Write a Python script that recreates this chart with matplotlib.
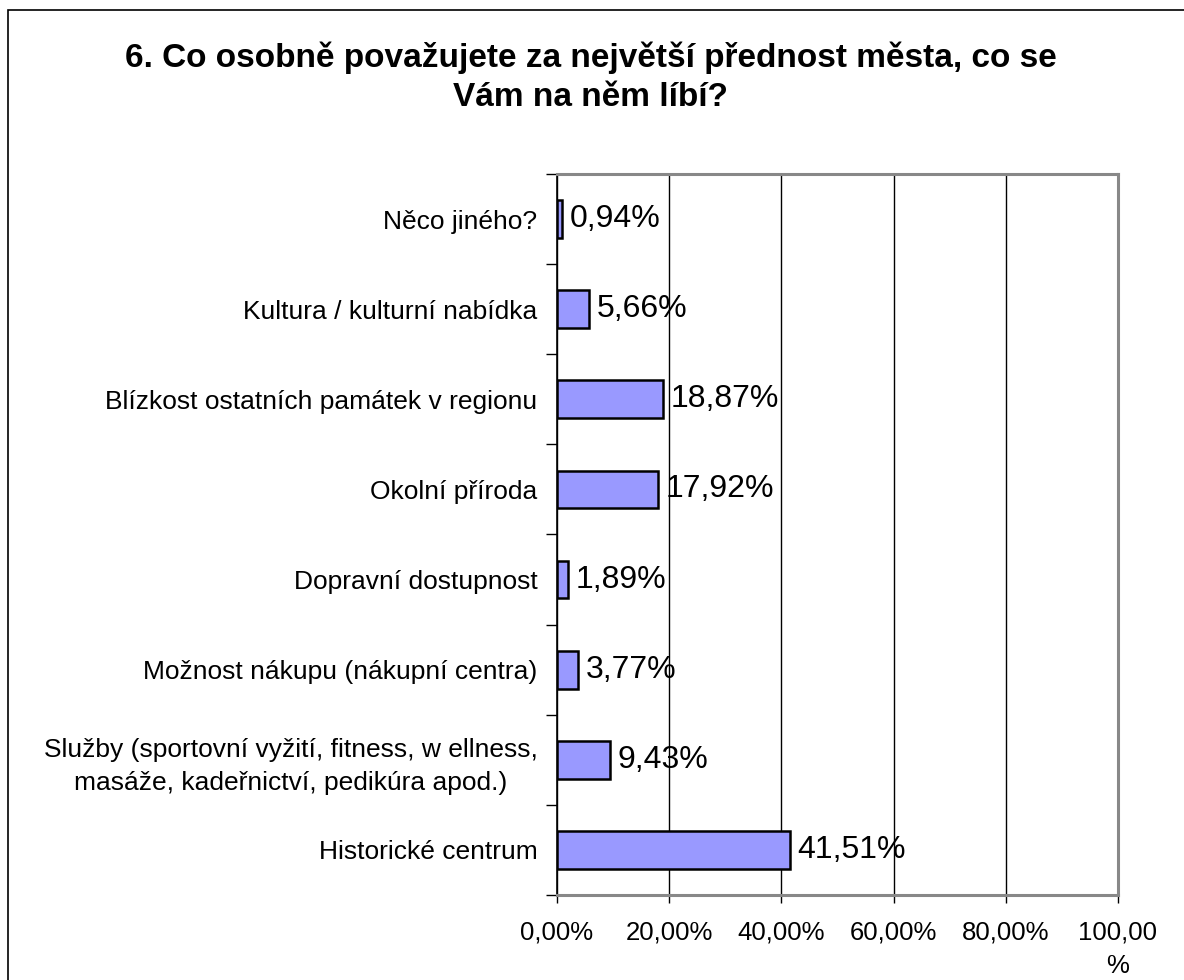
import matplotlib.pyplot as plt
from matplotlib.patches import Rectangle
from matplotlib.ticker import FixedLocator

plt.rcParams['font.family'] = ['Liberation Sans', 'DejaVu Sans']

# categories bottom -> top
categories = [
    'Historické centrum',
    'Služby (sportovní vyžití, fitness, w ellness,\nmasáže, kadeřnictví, pedikúra apod.)',
    'Možnost nákupu (nákupní centra)',
    'Dopravní dostupnost',
    'Okolní příroda',
    'Blízkost ostatních památek v regionu',
    'Kultura / kulturní nabídka',
    'Něco jiného?',
]
values = [41.51, 9.43, 3.77, 1.89, 17.92, 18.87, 5.66, 0.94]
x_ticks = [0, 20, 40, 60, 80, 100]
x_labels = ['0,00%', '20,00%', '40,00%', '60,00%', '80,00%', '100,00\n%']
title = '6. Co osobně považujete za největší přednost města, co se\nVám na něm líbí?'

fig = plt.figure(figsize=(11.84, 9.8), dpi=100)
fig.patch.set_facecolor('white')

# outer chart border (cut off at right/bottom like the original)
fig.patches.append(Rectangle((8 / 1184, -0.1), 1.2, 1.1 - 10 / 980,
                             transform=fig.transFigure, fill=False,
                             edgecolor='black', linewidth=1.2))

ax = fig.add_axes([557 / 1184, 85 / 980, (1118 - 557) / 1184, (895 - 174) / 980])

pos = list(range(len(categories)))
ax.barh(pos, values, height=0.42, color='#9999FF', edgecolor='black',
        linewidth=1.8, zorder=3)

for p, v in zip(pos, values):
    ax.text(v + 1.4, p, f'{v:.2f}%'.replace('.', ','), va='center', ha='left',
            fontsize=23, zorder=4)

ax.set_xlim(0, 100)
ax.set_ylim(-0.5, len(categories) - 0.5)

ax.set_xticks(x_ticks)
ax.set_xticklabels(x_labels, fontsize=18.5, va='top', linespacing=1.5)
ax.tick_params(axis='x', length=6, width=1, pad=12, color='black')

ax.set_yticks(pos)
ax.set_yticklabels(categories, fontsize=19, linespacing=1.45,
                   ha='right', multialignment='center')
ax.tick_params(axis='y', length=0, pad=14)
ax.yaxis.set_minor_locator(FixedLocator([p - 0.5 for p in range(len(categories) + 1)]))
ax.tick_params(axis='y', which='minor', length=8, width=1, color='black')

ax.grid(axis='x', color='black', linewidth=1, zorder=0)

ax.spines['left'].set_color('black')
ax.spines['left'].set_linewidth(1.2)
for s in ['top', 'right', 'bottom']:
    ax.spines[s].set_color('#888888')
    ax.spines[s].set_linewidth(2.2)

fig.text(0.499, 1 - 42 / 980, title, ha='center', va='top', fontsize=24,
         fontweight='bold', linespacing=1.3)

fig.savefig('out.png', dpi=100)
